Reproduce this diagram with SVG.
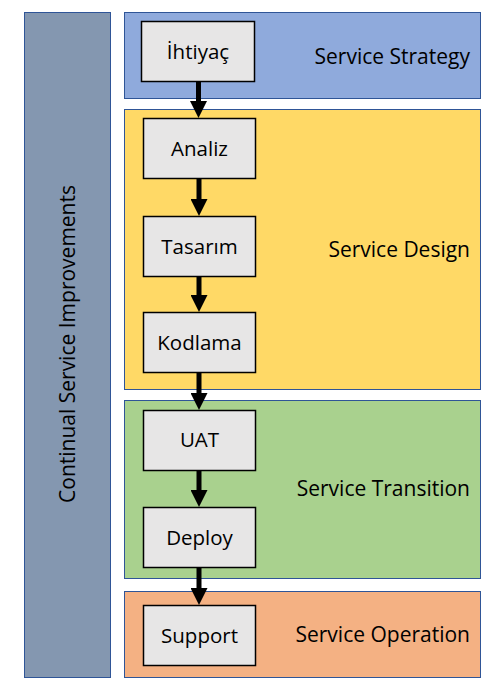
<svg xmlns="http://www.w3.org/2000/svg" width="503" height="695" viewBox="0 0 503 695">
<defs>
<style>
.band{stroke:#2F5597;stroke-width:1}
.node rect{fill:#E7E6E6;stroke:#000;stroke-width:1.5}
text{font-family:"Open Sans","Noto Sans",sans-serif;font-size:21px;fill:#000}
.node text{text-anchor:middle;font-size:20.5px}
.lbl{text-anchor:end}
.conn line{stroke:#000;stroke-width:5;marker-end:url(#ah)}
</style>
<marker id="ah" viewBox="0 0 17 17" refX="0" refY="8.5" markerWidth="17" markerHeight="17" markerUnits="userSpaceOnUse" orient="auto">
<path d="M0,0 L17,8.5 L0,17 z" fill="#000"/>
</marker>
</defs>
<rect width="503" height="695" fill="#fff"/>
<g id="csi">
<rect class="band" x="24.5" y="12.5" width="86" height="665" fill="#8497B0"/>
<text transform="translate(75,344) rotate(-90)" text-anchor="middle">Continual Service Improvements</text>
</g>
<g id="strategy">
<rect class="band" x="124.5" y="12.5" width="356" height="86" fill="#8FAADC"/>
<text class="lbl" x="470" y="64">Service Strategy</text>
</g>
<g id="design">
<rect class="band" x="124.5" y="109.5" width="356" height="280" fill="#FFD966"/>
<text class="lbl" x="470" y="257">Service Design</text>
</g>
<g id="transition">
<rect class="band" x="124.5" y="400.5" width="356" height="178" fill="#A9D18E"/>
<text class="lbl" x="470" y="496">Service Transition</text>
</g>
<g id="operation">
<rect class="band" x="124.5" y="591.5" width="356" height="86" fill="#F4B183"/>
<text class="lbl" x="470" y="642">Service Operation</text>
</g>
<g class="conn" id="connectors">
<line x1="198.5" y1="81" x2="198.5" y2="101"/>
<line x1="199" y1="178" x2="199" y2="199"/>
<line x1="199" y1="277" x2="199" y2="295"/>
<line x1="199" y1="372" x2="199" y2="393"/>
<line x1="199" y1="471" x2="199" y2="490"/>
<line x1="199" y1="567" x2="199" y2="588"/>
</g>
<g class="node" id="ihtiyac">
<rect x="141.5" y="21.5" width="113" height="60"/>
<text x="198" y="59">İhtiyaç</text>
</g>
<g class="node" id="analiz">
<rect x="143.5" y="118.5" width="112" height="60"/>
<text x="199.5" y="156">Analiz</text>
</g>
<g class="node" id="tasarim">
<rect x="143.5" y="216.5" width="112" height="60"/>
<text x="199.5" y="254">Tasarım</text>
</g>
<g class="node" id="kodlama">
<rect x="143.5" y="312.5" width="112" height="60"/>
<text x="199.5" y="350">Kodlama</text>
</g>
<g class="node" id="uat">
<rect x="143.5" y="410.5" width="112" height="60"/>
<text x="199.5" y="447">UAT</text>
</g>
<g class="node" id="deploy">
<rect x="143.5" y="507.5" width="112" height="60"/>
<text x="199.5" y="545">Deploy</text>
</g>
<g class="node" id="support">
<rect x="143.5" y="605.5" width="112" height="60"/>
<text x="199.5" y="643">Support</text>
</g>
</svg>
